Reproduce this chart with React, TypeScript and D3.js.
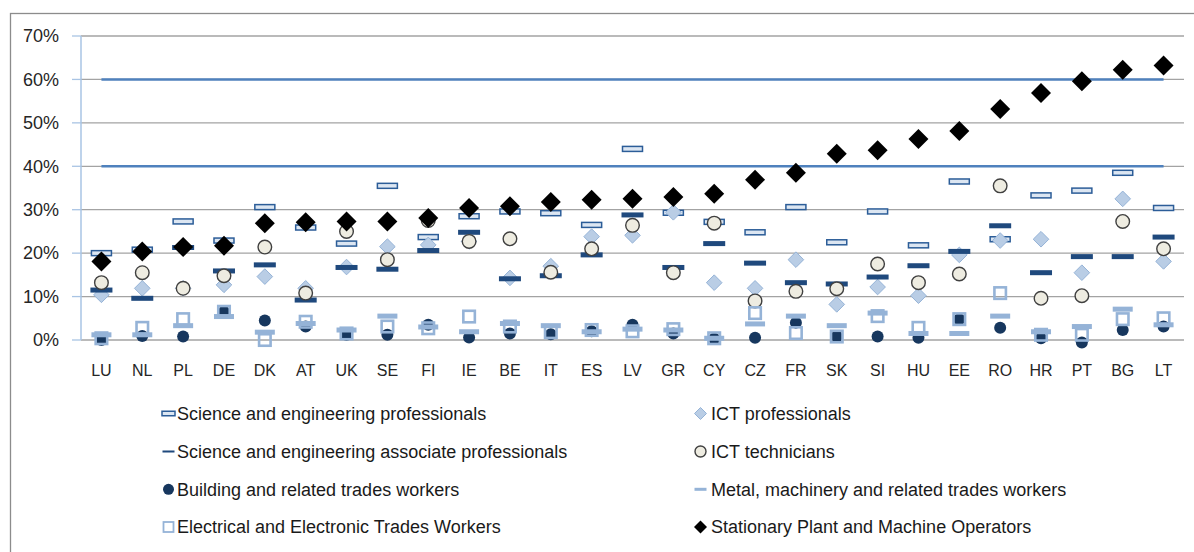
import React from "react";
import * as d3 from "d3";

const categories = ["LU","NL","PL","DE","DK","AT","UK","SE","FI","IE","BE","IT","ES","LV","GR","CY","CZ","FR","SK","SI","HU","EE","RO","HR","PT","BG","LT"];

const sciEngProf = [20.0,20.8,27.3,22.9,30.6,25.9,22.2,35.5,23.7,28.5,29.6,29.2,26.5,44.0,29.3,27.2,24.8,30.6,22.5,29.6,21.8,36.5,23.2,33.3,34.4,38.5,30.4];
const ictProf = [10.4,11.9,11.9,12.7,14.6,11.9,16.8,21.5,21.9,22.7,14.3,17.0,23.8,24.1,29.4,13.2,11.9,18.5,8.2,12.2,10.2,19.6,22.9,23.2,15.5,32.5,18.1];
const sciEngAssoc = [11.5,9.6,21.3,15.9,17.3,9.2,16.7,16.3,20.6,24.8,14.1,14.8,19.6,28.8,16.7,22.2,17.7,13.2,12.9,14.5,17.1,20.4,26.3,15.5,19.2,19.2,23.7];
const ictTech = [13.2,15.5,11.9,14.8,21.4,10.8,25.0,18.5,27.5,22.7,23.3,15.6,21.0,26.4,15.5,26.9,9.0,11.2,11.8,17.5,13.2,15.2,35.5,9.6,10.2,27.3,21.0];
const building = [0,0.9,0.8,6.5,4.5,3.1,1.2,1.2,3.5,0.6,1.5,1.3,2.0,3.5,1.5,0.3,0.5,4.0,0.8,0.8,0.5,4.8,2.8,0.4,-0.6,2.3,3.1];
const metal = [1.2,1.2,3.3,5.4,1.8,3.8,2.3,5.5,3.0,1.9,3.8,3.3,1.9,2.5,2.3,0.4,3.7,5.5,3.3,6.2,1.5,1.5,5.5,1.9,3.1,7.1,3.5];
const electrical = [0.4,2.8,4.8,6.5,0,4.2,1.5,3.1,2.7,5.4,3.1,1.8,2.3,2.0,2.5,0.4,6.2,1.6,0.8,5.5,2.8,4.8,10.8,1.2,1.2,4.8,5.0];
const stationary = [18.1,20.4,21.4,21.7,26.9,27.1,27.3,27.3,28.1,30.4,30.8,31.8,32.3,32.5,32.9,33.7,36.9,38.5,42.9,43.7,46.3,48.1,53.2,56.9,59.6,62.2,63.2];

const refLines = [60, 40];
const yTicks = [0, 10, 20, 30, 40, 50, 60, 70];

type MarkerKind = "hdash" | "dash" | "dot" | "square" | "diamond" | "circle" | "ldash" | "bdiamond";

const series: { name: string; values: number[]; kind: MarkerKind }[] = [
  { name: "Science and engineering professionals", values: sciEngProf, kind: "hdash" },
  { name: "ICT professionals", values: ictProf, kind: "diamond" },
  { name: "Science and engineering associate professionals", values: sciEngAssoc, kind: "dash" },
  { name: "ICT technicians", values: ictTech, kind: "circle" },
  { name: "Building and related trades workers", values: building, kind: "dot" },
  { name: "Metal, machinery and related trades workers", values: metal, kind: "ldash" },
  { name: "Electrical and Electronic Trades Workers", values: electrical, kind: "square" },
  { name: "Stationary Plant and Machine Operators", values: stationary, kind: "bdiamond" },
];

const FONT = "'Liberation Sans', Arial, sans-serif";

function Marker({ kind, x, y, legend = false }: { kind: MarkerKind; x: number; y: number; legend?: boolean }) {
  const s = legend ? 0.65 : 1;
  switch (kind) {
    case "hdash": {
      const w = 20 * s, h = legend ? 4.5 : 5;
      return <rect x={x - w / 2} y={y - h / 2} width={w} height={h} fill="#dce6f2" stroke="#2c5d98" strokeWidth={1.5} />;
    }
    case "dash": {
      const w = legend ? 12 : 22, h = legend ? 2 : 5;
      return <rect x={x - w / 2} y={y - h / 2} width={w} height={h} fill="#1f497d" />;
    }
    case "ldash": {
      const w = legend ? 12 : 20, h = legend ? 3 : 5;
      return <rect x={x - w / 2} y={y - h / 2} width={w} height={h} fill="#95b3d7" />;
    }
    case "dot": {
      return <circle cx={x} cy={y} r={legend ? 5.5 : 6} fill="#17375e" />;
    }
    case "square": {
      const w = legend ? 10 : 11.5;
      return <rect x={x - w / 2} y={y - w / 2} width={w} height={w} fill="none" stroke="#95b3d7" strokeWidth={legend ? 1.8 : 2.6} />;
    }
    case "diamond": {
      const r = legend ? 6 : 7.8;
      return <path d={`M${x},${y - r}L${x + r},${y}L${x},${y + r}L${x - r},${y}Z`} fill="#b9cde5" stroke="#95b3d7" strokeWidth={1} />;
    }
    case "circle": {
      return <circle cx={x} cy={y} r={legend ? 5.5 : 6.8} fill="#eeece1" stroke="#404040" strokeWidth={1.4} />;
    }
    case "bdiamond": {
      const r = legend ? 6.5 : 10;
      return <path d={`M${x},${y - r}L${x + r},${y}L${x},${y + r}L${x - r},${y}Z`} fill="#000" />;
    }
  }
  return null;
}

export default function App() {
  const W = 1194, H = 552;
  const left = 81, right = 1184, top = 36, bottom = 340;
  const x = d3.scaleBand<string>().domain(categories).range([left, right]).padding(0);
  const y = d3.scaleLinear().domain([0, 70]).range([bottom, top]);
  const cx = (c: string) => (x(c) as number) + x.bandwidth() / 2;

  const legendRows = [413.5, 451.5, 489.3, 527];
  const legendCols = [
    { mx: 168.5, tx: 177 },
    { mx: 700.5, tx: 711 },
  ];

  return (
    <svg width={W} height={H} style={{ position: "absolute", left: 0, top: 0, background: "#fff" }} fontFamily={FONT}>
      <rect x={10.5} y={13.5} width={1250} height={700} fill="#fff" stroke="#8c8c8c" strokeWidth={1.3} />
      {yTicks.map((t) => (
        <g key={t}>
          <line x1={left} x2={right} y1={y(t)} y2={y(t)} stroke="#a3a3a3" strokeWidth={1.3} />
          <line x1={72} x2={left} y1={y(t)} y2={y(t)} stroke="#a9c4e4" strokeWidth={1.3} />
          <text x={59} y={y(t)} dy="0.35em" textAnchor="end" fontSize={18} fill="#262626">{`${t}%`}</text>
        </g>
      ))}
      <line x1={left} x2={left} y1={top} y2={bottom} stroke="#a9c4e4" strokeWidth={1.5} />
      {categories.map((c) => (
        <text key={c} x={cx(c)} y={370} dy="0.35em" textAnchor="middle" fontSize={16} fill="#262626">{c}</text>
      ))}
      {refLines.map((v) => (
        <line key={v} x1={cx(categories[0])} x2={cx(categories[categories.length - 1])} y1={y(v)} y2={y(v)} stroke="#4f81bd" strokeWidth={2.5} />
      ))}
      {series.map((s) => (
        <g key={s.name}>
          {s.values.map((v, i) => (
            <Marker key={i} kind={s.kind} x={cx(categories[i])} y={y(v)} />
          ))}
        </g>
      ))}
      {series.map((s, i) => {
        const col = legendCols[i % 2];
        const ry = legendRows[Math.floor(i / 2)];
        return (
          <g key={s.name}>
            <Marker kind={s.kind} x={col.mx} y={ry} legend />
            <text x={col.tx} y={ry} dy="0.35em" fontSize={18} fill="#1a1a1a">{s.name}</text>
          </g>
        );
      })}
    </svg>
  );
}
